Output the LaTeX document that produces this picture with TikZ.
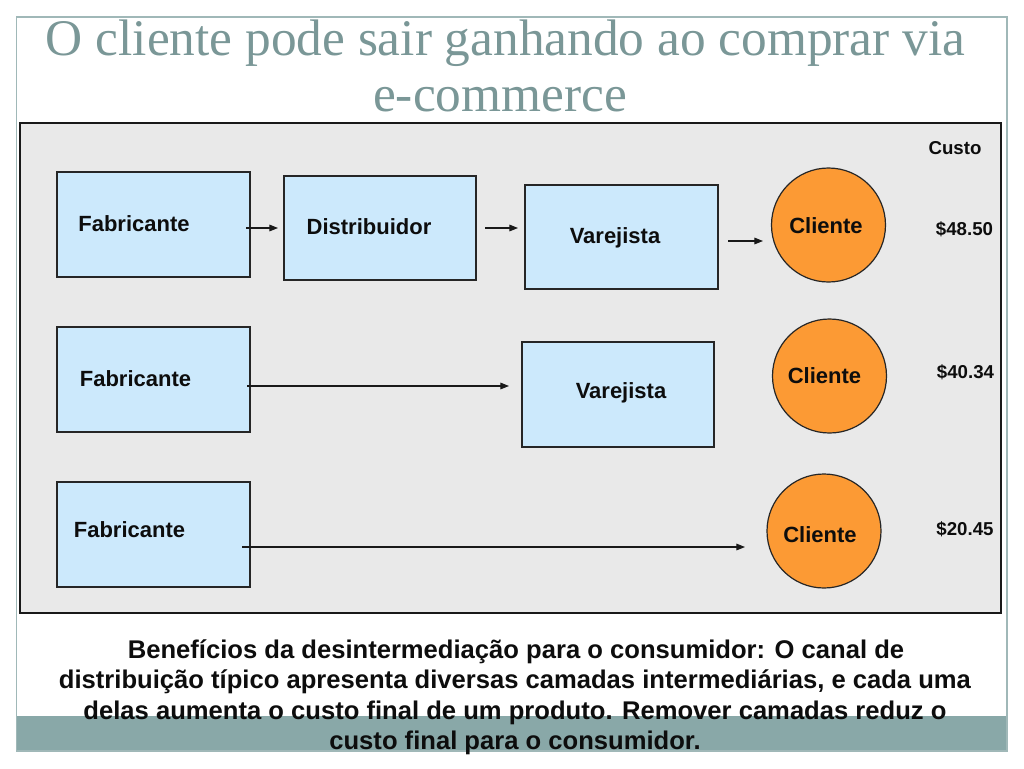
\documentclass[tikz,border=0pt]{standalone}
\usepackage{fontspec}
\setmainfont{Liberation Serif}
\setsansfont{Liberation Sans}
\usetikzlibrary{arrows.meta}
\definecolor{titlecol}{RGB}{122,151,151}
\definecolor{framecol}{RGB}{160,184,184}
\definecolor{bandcol}{RGB}{137,168,168}
\definecolor{panelcol}{RGB}{233,233,233}
\definecolor{boxcol}{RGB}{204,233,252}
\definecolor{orangecol}{RGB}{252,154,52}
\tikzset{
  boxnode/.style={draw=black!85, line width=0.9pt, fill=boxcol, inner sep=0pt, outer sep=0pt,
    minimum width=144.75pt, minimum height=78.75pt},
  circnode/.style={circle, draw=black!85, line width=0.9pt, fill=orangecol, inner sep=0pt, minimum size=85.5pt},
  lbl/.style={font=\sffamily\bfseries\fontsize{16.5pt}{19pt}\selectfont, text=black!95, anchor=base, inner sep=0pt},
  costlbl/.style={font=\sffamily\bfseries\fontsize{14pt}{16pt}\selectfont, text=black!95, anchor=base, inner sep=0pt},
  bodylbl/.style={font=\sffamily\bfseries\fontsize{19.2pt}{23pt}\selectfont, text=black!95, anchor=base, inner sep=0pt},
  titlelbl/.style={font=\fontsize{38.5pt}{42pt}\selectfont, text=titlecol, anchor=base, inner sep=0pt},
  arr/.style={-{Triangle[length=6.5pt,width=5pt]}, line width=0.8pt, draw=black!90}
}
\begin{document}
\begin{tikzpicture}[x=0.75pt,y=-0.75pt]
\useasboundingbox (0,0) rectangle (1024,768);
\fill[white] (0,0) rectangle (1024,768);
% slide frame and band
\fill[bandcol] (16,716) rectangle (1007,751);
\draw[framecol, line width=0.8pt] (16.5,17) rectangle (1007,751);
% title
\node[titlelbl] (t1) at (505.5,55) {O cliente pode sair ganhando ao comprar via};
\node[titlelbl] (t2) at (500,111) {e-commerce};
% panel
\node[draw=black!90, line width=1.2pt, fill=panelcol, inner sep=0pt, outer sep=0pt,
  minimum width=735.75pt, minimum height=367.5pt] (panel) at (510.5,368) {};
% row 1
\node[boxnode] (fab1) at (153.5,224.5) {};
\node[boxnode, minimum width=144pt, minimum height=78pt] (dist) at (380,228) {};
\node[boxnode, minimum height=78pt] (var1) at (621.5,237) {};
\node[circnode] (cli1) at (828.5,225) {};
\node[lbl] (tfab1) at (134,231) {Fabricante};
\node[lbl] (tdist) at (369,234) {Distribuidor};
\node[lbl] (tvar1) at (615,243) {Varejista};
\node[lbl] (tcli1) at (826,233) {Cliente};
\node[costlbl] (custo) at (955,154) {Custo};
\node[costlbl] (c1) at (964.5,235) {\$48.50};
\coordinate (a1s) at (246,228); \coordinate (a1e) at (278,228);
\coordinate (a2s) at (485,228); \coordinate (a2e) at (518,228);
\coordinate (a3s) at (728,241); \coordinate (a3e) at (763,241);
\draw[arr] (a1s) -- (a1e);
\draw[arr] (a2s) -- (a2e);
\draw[arr] (a3s) -- (a3e);
% row 2
\node[boxnode] (fab2) at (153.5,379.5) {};
\node[boxnode, minimum width=144pt] (var2) at (618,394.5) {};
\node[circnode] (cli2) at (829.5,376) {};
\node[lbl] (tfab2) at (135.5,386) {Fabricante};
\node[lbl] (tvar2) at (621,398) {Varejista};
\node[lbl] (tcli2) at (824.5,383) {Cliente};
\node[costlbl] (c2) at (965.5,378) {\$40.34};
\coordinate (a4s) at (247,386); \coordinate (a4e) at (509,386);
\draw[arr] (a4s) -- (a4e);
% row 3
\node[boxnode] (fab3) at (153.5,534.5) {};
\node[circnode] (cli3) at (824,531) {};
\node[lbl] (tfab3) at (129.5,537) {Fabricante};
\node[lbl] (tcli3) at (820,542) {Cliente};
\node[costlbl] (c3) at (965,535) {\$20.45};
\coordinate (a5s) at (242,547); \coordinate (a5e) at (745,547);
\draw[arr] (a5s) -- (a5e);
% body text
\node[bodylbl] (b1) at (516,658) {Benefícios da desintermediação para o consumidor: O canal de};
\node[bodylbl] (b2) at (515,688.5) {distribuição típico apresenta diversas camadas intermediárias, e cada uma};
\node[bodylbl] (b3) at (515,719) {delas aumenta o custo final de um produto. Remover camadas reduz o};
\node[bodylbl] (b4) at (515,749.5) {custo final para o consumidor.};
\end{tikzpicture}
\end{document}
